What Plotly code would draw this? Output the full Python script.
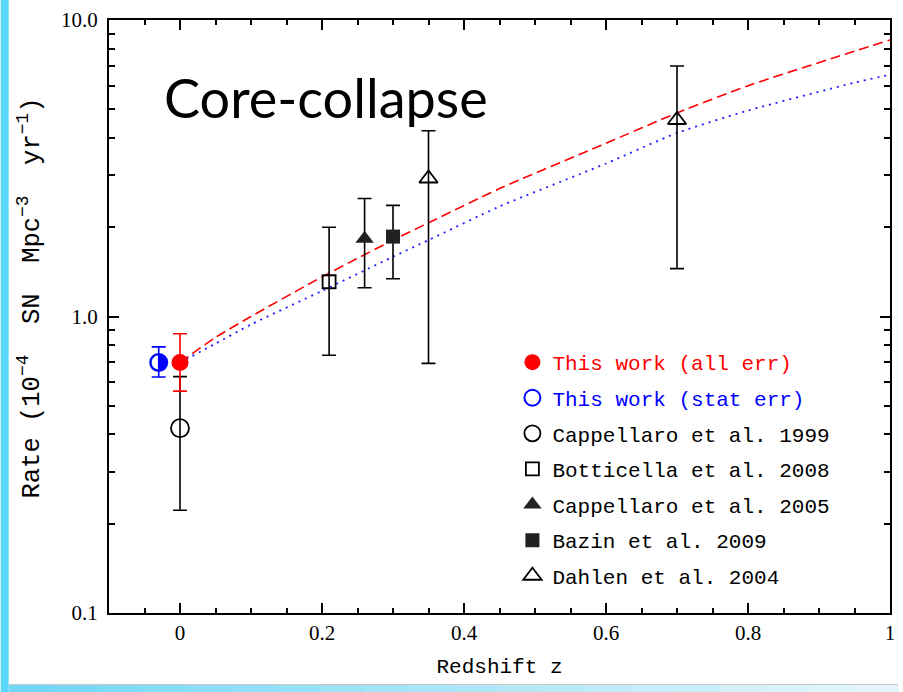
import plotly.graph_objects as go

# ---------------- data ----------------
model_z = [0.0, 0.05, 0.1, 0.2, 0.3, 0.35, 0.45, 0.6, 0.7, 0.8, 0.95, 1.0]
model_all = [0.70, 0.85, 1.00, 1.36, 1.81, 2.07, 2.70, 3.84, 4.86, 6.00, 7.85, 8.56]
model_stat = [0.70, 0.81, 0.94, 1.22, 1.59, 1.81, 2.35, 3.28, 4.16, 4.95, 6.15, 6.54]

all_z, all_rate, all_hi, all_lo = [0.0], [0.70], [0.875], [0.56]
stat_z, stat_rate, stat_hi, stat_lo = [-0.03], [0.70], [0.79], [0.625]
capp99_z, capp99_rate, capp99_hi, capp99_lo = [0.0], [0.42], [0.627], [0.222]
bott08_z, bott08_rate, bott08_hi, bott08_lo = [0.21], [1.31], [2.0], [0.74]
capp05_z, capp05_rate, capp05_hi, capp05_lo = [0.26], [1.83], [2.5], [1.25]
bazin09_z, bazin09_rate, bazin09_hi, bazin09_lo = [0.30], [1.86], [2.37], [1.34]
dahlen04_z, dahlen04_rate, dahlen04_hi, dahlen04_lo = [0.35, 0.70], [2.92, 4.60], [4.23, 7.0], [0.695, 1.45]

x_tickvals = [0, 0.2, 0.4, 0.6, 0.8, 1.0]
x_ticktext = ["0", "0.2", "0.4", "0.6", "0.8", "1"]
y_tickvals = [0.1, 1, 10]
y_ticktext = ["0.1", "1.0", "10.0"]
y_minor = [0.2, 0.3, 0.4, 0.5, 0.6, 0.7, 0.8, 0.9, 2, 3, 4, 5, 6, 7, 8, 9]

# ---------------- layout geometry ----------------
W, H = 903, 692
L, R, T, B = 109, 8, 20, 79
PW, PH = W - L - R, H - T - B


def px_x(p):
    return (p - L) / PW


def px_y(p):
    return (H - B - p) / PH


MONO = "Liberation Mono"
SERIF = "Liberation Serif"


def errs(rate, hi, lo):
    return dict(type="data", symmetric=False,
                array=[h - r for r, h in zip(rate, hi)],
                arrayminus=[r - l for r, l in zip(rate, lo)])


fig = go.Figure()

# model curves
fig.add_trace(go.Scatter(x=model_z, y=model_all, mode="lines", showlegend=False,
                         line=dict(color="#ff0000", width=1.6, dash="10px,5px", shape="spline", smoothing=0.6),
                         hoverinfo="skip"))
fig.add_trace(go.Scatter(x=model_z, y=model_stat, mode="lines", showlegend=False,
                         line=dict(color="#2020ff", width=1.8, dash="2px,5px", shape="spline", smoothing=0.6),
                         hoverinfo="skip"))

black_err = dict(color="black", thickness=1.6, width=7)

fig.add_trace(go.Scatter(x=capp99_z, y=capp99_rate, mode="markers", legendrank=3,
                         name="Cappellaro et al. 1999",
                         marker=dict(symbol="circle-open", size=18, color="black", line=dict(width=1.8)),
                         error_y={**errs(capp99_rate, capp99_hi, capp99_lo), **black_err}))
fig.add_trace(go.Scatter(x=all_z, y=all_rate, mode="markers", legendrank=1,
                         name="<span style='color:#ff0000'>This work (all err)</span>",
                         marker=dict(symbol="circle", size=17, color="#ff0000"),
                         error_y={**errs(all_rate, all_hi, all_lo), "color": "#ff0000", "thickness": 1.6, "width": 7}))
fig.add_trace(go.Scatter(x=stat_z, y=stat_rate, mode="markers", legendrank=2,
                         name="<span style='color:#0000ff'>This work (stat err)</span>",
                         marker=dict(symbol="circle-open", size=17, color="#0000ff", line=dict(width=2)),
                         error_y={**errs(stat_rate, stat_hi, stat_lo), "color": "#0000ff", "thickness": 1.6, "width": 7}))
fig.add_trace(go.Scatter(x=stat_z, y=stat_rate, mode="text", text=["\u25D1"], showlegend=False,
                         textfont=dict(family="DejaVu Sans", size=22, color="#0000ff"),
                         textposition="middle center", hoverinfo="skip"))
fig.add_trace(go.Scatter(x=bott08_z, y=bott08_rate, mode="markers", legendrank=4,
                         name="Botticella et al. 2008",
                         marker=dict(symbol="square-open", size=13, color="black", line=dict(width=1.8)),
                         error_y={**errs(bott08_rate, bott08_hi, bott08_lo), **black_err}))
fig.add_trace(go.Scatter(x=capp05_z, y=capp05_rate, mode="markers", legendrank=5,
                         name="Cappellaro et al. 2005",
                         marker=dict(symbol="triangle-up", size=16, color="#222222"),
                         error_y={**errs(capp05_rate, capp05_hi, capp05_lo), **black_err}))
fig.add_trace(go.Scatter(x=bazin09_z, y=bazin09_rate, mode="markers", legendrank=6,
                         name="Bazin et al. 2009",
                         marker=dict(symbol="square", size=14, color="#222222"),
                         error_y={**errs(bazin09_rate, bazin09_hi, bazin09_lo), **black_err}))
fig.add_trace(go.Scatter(x=dahlen04_z, y=dahlen04_rate, mode="markers", legendrank=7,
                         name="Dahlen et al. 2004",
                         marker=dict(symbol="triangle-up-open", size=16, color="black", line=dict(width=1.8)),
                         error_y={**errs(dahlen04_rate, dahlen04_hi, dahlen04_lo), **black_err}))

# each legend entry in its own group so tracegroupgap sets the row spacing
for i, tr in enumerate(fig.data):
    tr.legendgroup = "g%d" % i

axis_common = dict(showgrid=False, zeroline=False, showline=True, linecolor="black", linewidth=2,
                   mirror="allticks", ticks="inside", ticklen=10, tickwidth=1.5, tickcolor="black",
                   tickfont=dict(family=SERIF, size=21, color="black"))

fig.update_xaxes(range=[-0.1, 1.0], tickvals=x_tickvals, ticktext=x_ticktext,
                 minor=dict(dtick=0.05, tick0=0, ticks="inside", ticklen=5, tickwidth=1.5, tickcolor="black"),
                 title=dict(text="Redshift z", font=dict(family=MONO, size=21, color="black"), standoff=14),
                 **axis_common)
fig.update_yaxes(type="log", range=[-1, 1], tickvals=y_tickvals, ticktext=y_ticktext, ticklabelstandoff=5,
                 minor=dict(tickmode="array", tickvals=y_minor, ticks="inside", ticklen=6, tickwidth=1.5, tickcolor="black"),
                 **axis_common)

# decorations: slide border strips
shapes = [dict(type="rect", xref="paper", yref="paper", x0=px_x(0), x1=px_x(8), y0=px_y(H), y1=px_y(0),
               fillcolor="#5cd8f8", line=dict(width=0), layer="above")]
nseg = 20
c0 = (0x72, 0xd8, 0xf6)
c1 = (0xe4, 0xf5, 0xfb)
for i in range(nseg):
    f = i / (nseg - 1)
    col = "#%02x%02x%02x" % tuple(int(a + (b - a) * f) for a, b in zip(c0, c1))
    shapes.append(dict(type="rect", xref="paper", yref="paper",
                       x0=px_x(8 + (W - 8) * i / nseg), x1=px_x(8 + (W - 8) * (i + 1) / nseg + 1),
                       y0=px_y(H), y1=px_y(685), fillcolor=col, line=dict(width=0), layer="above"))
shapes.append(dict(type="line", xref="paper", yref="paper", x0=px_x(8), x1=px_x(W), y0=px_y(684.5), y1=px_y(684.5),
                   line=dict(color="#c8c8c8", width=1), layer="above"))

nb = "\u00a0"
annotations = [
    dict(text="Core-collapse", xref="paper", yref="paper", x=px_x(327), y=px_y(97),
         xanchor="center", yanchor="middle", showarrow=False,
         font=dict(family="Lato", size=54, color="black")),
    dict(text="Rate (10<sup>\u22124</sup>" + nb + " SN" + nb + " Mpc<sup>\u22123</sup>" + nb + " yr<sup>\u22121</sup>)",
         xref="paper", yref="paper", x=px_x(30), y=px_y(298), textangle=-90,
         xanchor="center", yanchor="middle", showarrow=False,
         font=dict(family=MONO, size=25.5, color="black")),
]

fig.update_layout(
    width=W, height=H, autosize=False,
    margin=dict(l=L, r=R, t=T, b=B, pad=0),
    paper_bgcolor="white", plot_bgcolor="white",
    shapes=shapes, annotations=annotations,
    legend=dict(x=px_x(515), y=px_y(342), xanchor="left", yanchor="top",
                bgcolor="rgba(0,0,0,0)", borderwidth=0, tracegroupgap=5.3,
                font=dict(family=MONO, size=21, color="black"),
                traceorder="grouped"),
)

fig.write_html("out.html")
